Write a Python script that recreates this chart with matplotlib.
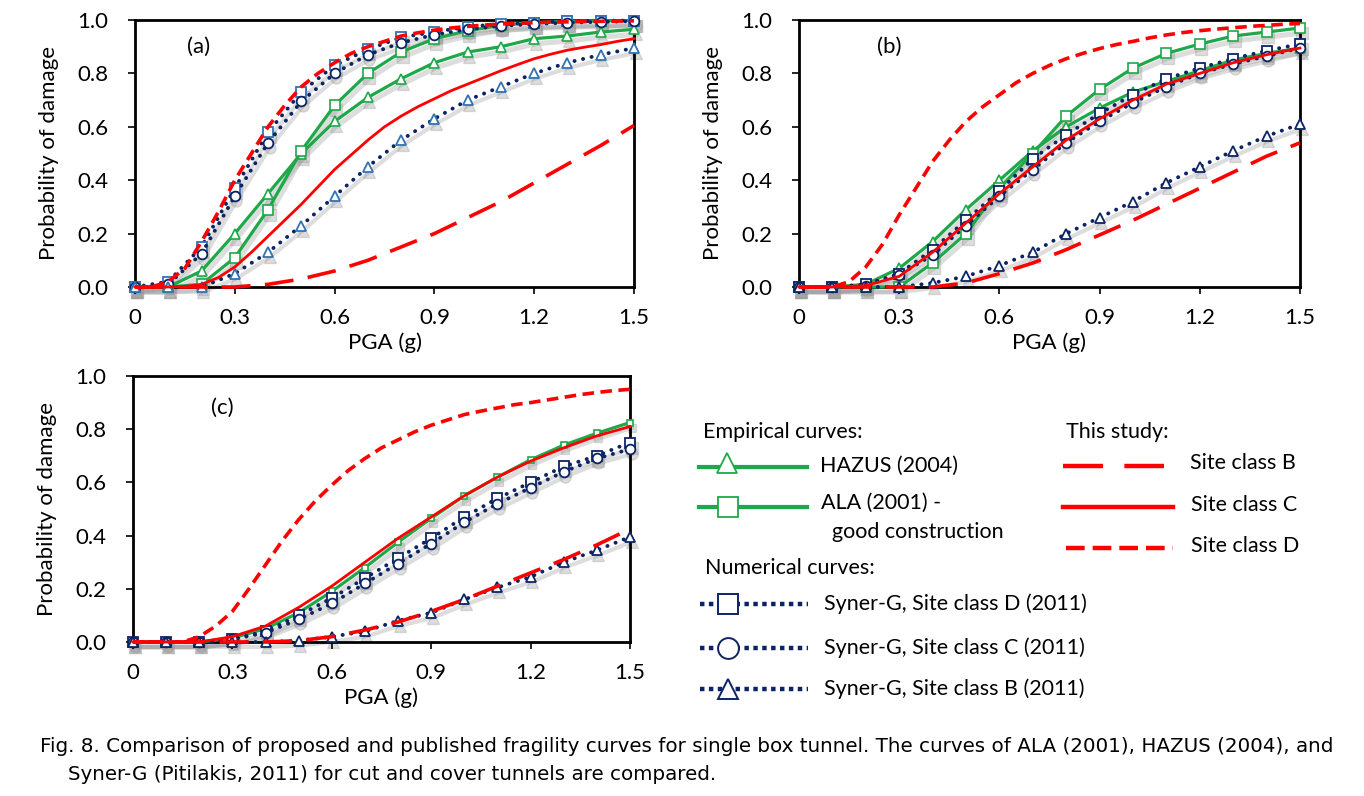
import matplotlib
matplotlib.use("Agg")
import matplotlib.pyplot as plt
import matplotlib.transforms as mtransforms
import numpy as np

W, H = 1364, 796
FONT = ['Lato', 'DejaVu Sans']
plt.rcParams['font.family'] = FONT

pga = [0.0, 0.1, 0.2, 0.3, 0.4, 0.5, 0.6, 0.7, 0.8, 0.9, 1.0, 1.1, 1.2, 1.3, 1.4, 1.5]
pga_fine = [0.0, 0.05, 0.1, 0.15, 0.2, 0.25, 0.3, 0.35, 0.4, 0.45, 0.5, 0.55, 0.6, 0.65, 0.7,
            0.75, 0.8, 0.85, 0.9, 0.95, 1.0, 1.05, 1.1, 1.15, 1.2, 1.25, 1.3, 1.35, 1.4, 1.45, 1.5]

# ---------------- panel (a) ----------------
a_hazus = [0, 0, 0.06, 0.20, 0.35, 0.50, 0.62, 0.71, 0.78, 0.84, 0.88, 0.90, 0.93, 0.94, 0.955, 0.965]
a_ala = [0, 0, 0.01, 0.11, 0.29, 0.51, 0.68, 0.80, 0.88, 0.93, 0.96, 0.98, 0.99, 0.995, 0.997, 0.998]
a_synD = [0, 0.02, 0.15, 0.37, 0.58, 0.73, 0.83, 0.89, 0.935, 0.955, 0.975, 0.985, 0.99, 0.995, 0.997, 0.998]
a_synC = [0, 0.01, 0.125, 0.34, 0.54, 0.695, 0.80, 0.87, 0.915, 0.945, 0.965, 0.978, 0.985, 0.99, 0.993, 0.996]
a_synB = [0, 0, 0, 0.05, 0.13, 0.23, 0.34, 0.45, 0.55, 0.63, 0.70, 0.75, 0.80, 0.84, 0.87, 0.895]
a_siteD = [0, 0.0, 0.02, 0.07, 0.17, 0.28, 0.40, 0.50, 0.60, 0.68, 0.75, 0.80, 0.84, 0.875, 0.90, 0.92,
           0.94, 0.952, 0.962, 0.97, 0.976, 0.981, 0.985, 0.988, 0.99, 0.992, 0.993, 0.994, 0.995, 0.996, 0.997]
a_siteC = [0, 0, 0, 0.002, 0.01, 0.035, 0.075, 0.13, 0.19, 0.25, 0.31, 0.375, 0.44, 0.495, 0.55, 0.60,
           0.64, 0.675, 0.705, 0.735, 0.76, 0.785, 0.81, 0.833, 0.855, 0.872, 0.887, 0.898, 0.908, 0.92, 0.93]
a_siteB = [0, 0, 0, 0, 0.01, 0.03, 0.06, 0.10, 0.15, 0.20, 0.26, 0.32, 0.39, 0.46, 0.53, 0.605]

# ---------------- panel (b) ----------------
b_hazus = [0, 0, 0.01, 0.07, 0.17, 0.29, 0.40, 0.51, 0.60, 0.67, 0.73, 0.77, 0.81, 0.85, 0.875, 0.895]
b_ala = [0, 0, 0, 0.0, 0.09, 0.20, 0.37, 0.50, 0.64, 0.74, 0.82, 0.875, 0.91, 0.94, 0.955, 0.97]
b_synD = [0, 0, 0.01, 0.05, 0.14, 0.25, 0.36, 0.48, 0.57, 0.65, 0.72, 0.78, 0.82, 0.855, 0.885, 0.91]
b_synC = [0, 0, 0.005, 0.045, 0.12, 0.23, 0.34, 0.44, 0.54, 0.62, 0.69, 0.75, 0.80, 0.835, 0.865, 0.895]
b_synB = [0, 0, 0, 0, 0.015, 0.04, 0.08, 0.13, 0.20, 0.26, 0.32, 0.39, 0.45, 0.51, 0.565, 0.61]
b_siteD = [0, 0, 0.0, 0.02, 0.075, 0.16, 0.27, 0.37, 0.47, 0.55, 0.62, 0.675, 0.72, 0.765, 0.80, 0.83,
           0.855, 0.875, 0.893, 0.908, 0.92, 0.933, 0.944, 0.953, 0.96, 0.966, 0.971, 0.976, 0.98, 0.984, 0.987]
b_siteC = [0, 0, 0.005, 0.04, 0.13, 0.24, 0.35, 0.45, 0.55, 0.63, 0.70, 0.76, 0.80, 0.84, 0.87, 0.895]
b_siteB = [0, 0, 0, 0, 0, 0.015, 0.05, 0.09, 0.14, 0.195, 0.25, 0.31, 0.37, 0.43, 0.49, 0.54]

# ---------------- panel (c) ----------------
c_ala = [0, 0, 0, 0.015, 0.05, 0.11, 0.19, 0.28, 0.375, 0.465, 0.55, 0.62, 0.685, 0.74, 0.785, 0.825]
c_synD = [0, 0, 0, 0.01, 0.04, 0.10, 0.165, 0.24, 0.315, 0.39, 0.47, 0.54, 0.60, 0.66, 0.70, 0.75]
c_synC = [0, 0, 0, 0.01, 0.035, 0.085, 0.145, 0.22, 0.295, 0.37, 0.45, 0.52, 0.58, 0.64, 0.69, 0.725]
c_synB = [0, 0, 0, 0, 0, 0.005, 0.02, 0.04, 0.08, 0.11, 0.16, 0.205, 0.245, 0.30, 0.345, 0.395]
c_siteD = [0, 0, 0, 0.0, 0.02, 0.06, 0.115, 0.20, 0.29, 0.38, 0.46, 0.53, 0.59, 0.645, 0.69, 0.73,
           0.76, 0.79, 0.815, 0.835, 0.855, 0.868, 0.88, 0.892, 0.90, 0.91, 0.92, 0.93, 0.938, 0.945, 0.95]
c_siteC = [0, 0, 0, 0.02, 0.06, 0.13, 0.21, 0.30, 0.39, 0.47, 0.55, 0.62, 0.68, 0.73, 0.775, 0.81]
c_siteB = [0, 0, 0, 0, 0, 0.005, 0.02, 0.045, 0.075, 0.115, 0.16, 0.21, 0.26, 0.31, 0.365, 0.425]

xticks = [0, 0.3, 0.6, 0.9, 1.2, 1.5]
xticklabels = ['0', '0.3', '0.6', '0.9', '1.2', '1.5']
yticks = [0.0, 0.2, 0.4, 0.6, 0.8, 1.0]
yticklabels = ['0.0', '0.2', '0.4', '0.6', '0.8', '1.0']

GREEN = '#1FA84A'
RED = '#FF0000'
NAVY = '#0D2464'
BLUE_A = '#2F73B5'

LS_B = (0, (8, 4))
LS_D = (0, (3.2, 1.8))
LS_DOT = (0, (0.05, 2.2))

fig = plt.figure(figsize=(W / 100, H / 100), dpi=100)


def add_ax(l, r, t, b):
    return fig.add_axes([l / W, 1 - b / H, (r - l) / W, (b - t) / H])


def shadow_plot(ax, x, y, **kw):
    tr = mtransforms.offset_copy(ax.transData, fig=fig, x=1.5, y=-5, units='dots')
    ax.plot(x, y, color='#9a9a9a', alpha=0.33, transform=tr, marker=kw.get('marker'),
            markersize=kw.get('markersize', 7) + 1, markerfacecolor='#9a9a9a',
            markeredgecolor='#9a9a9a', lw=kw.get('lw', 2.2) + 1.5, ls='-',
            clip_on=False, zorder=1)


def green(ax, y, marker, ms=7):
    shadow_plot(ax, pga, y, marker=marker, markersize=ms, lw=2.2)
    ax.plot(pga, y, color=GREEN, lw=2.3, marker=marker, markersize=ms,
            markerfacecolor='white', markeredgecolor=GREEN, markeredgewidth=1.2,
            clip_on=False, zorder=3)


def navy(ax, y, marker, edge, ms=7):
    shadow_plot(ax, pga, y, marker=marker, markersize=ms, lw=1.5)
    ax.plot(pga, y, color=NAVY, lw=2.8, ls=LS_DOT, dash_capstyle='round', marker=marker,
            markersize=ms, markerfacecolor='white', markeredgecolor=edge,
            markeredgewidth=1.3, clip_on=False, zorder=4)


def red(ax, x, y, ls, lw):
    ax.plot(x, y, color=RED, lw=lw, ls=ls, clip_on=False, zorder=5)


def style(ax, label, lx, ly):
    ax.set_xlim(0, 1.5)
    ax.set_ylim(0, 1.0)
    ax.set_xticks(xticks)
    ax.set_xticklabels(xticklabels)
    ax.set_yticks(yticks)
    ax.set_yticklabels(yticklabels)
    for s in ax.spines.values():
        s.set_linewidth(2.0)
        s.set_color('black')
        s.set_zorder(2)
    ax.tick_params(direction='out', length=5, width=1.2, labelsize=16)
    ax.tick_params(axis='x', pad=10)
    ax.tick_params(axis='y', pad=14)
    ax.set_xlabel('PGA (g)', fontsize=16, labelpad=3)
    ax.set_ylabel('Probability of damage', fontsize=16, labelpad=13)
    ax.text(lx, ly, label, fontsize=16, ha='center', va='center')


# panel (a)
ax_a = add_ax(135, 634, 20, 287)
green(ax_a, a_hazus, '^')
green(ax_a, a_ala, 's')
navy(ax_a, a_synD, 's', BLUE_A)
navy(ax_a, a_synC, 'o', NAVY)
navy(ax_a, a_synB, '^', BLUE_A)
red(ax_a, pga, a_siteB, LS_B, 2.6)
red(ax_a, pga_fine, a_siteC, '-', 2.0)
red(ax_a, pga_fine, a_siteD, LS_D, 2.6)
style(ax_a, '(a)', 0.19, 0.9)

# panel (b)
ax_b = add_ax(799, 1300, 20, 287)
green(ax_b, b_hazus, '^')
green(ax_b, b_ala, 's')
navy(ax_b, b_synD, 's', NAVY)
navy(ax_b, b_synC, 'o', NAVY)
navy(ax_b, b_synB, '^', NAVY)
red(ax_b, pga, b_siteB, LS_B, 2.6)
red(ax_b, pga, b_siteC, '-', 2.0)
red(ax_b, pga_fine, b_siteD, LS_D, 2.6)
style(ax_b, '(b)', 0.27, 0.9)

# panel (c)
ax_c = add_ax(133, 630, 376, 642)
green(ax_c, c_ala, 's', ms=5)
navy(ax_c, c_synD, 's', NAVY)
navy(ax_c, c_synC, 'o', NAVY)
navy(ax_c, c_synB, '^', NAVY)
red(ax_c, pga, c_siteB, LS_B, 2.6)
red(ax_c, pga, c_siteC, '-', 2.0)
red(ax_c, pga_fine, c_siteD, LS_D, 2.6)
style(ax_c, '(c)', 0.27, 0.88)

# ---------------- legend (drawn in a pixel-space overlay) ----------------
lg = fig.add_axes([0, 0, 1, 1], zorder=-1)
lg.set_xlim(0, W)
lg.set_ylim(H, 0)
lg.axis('off')
LF = 15.5

lg.text(703, 432, 'Empirical curves:', fontsize=LF, va='center', ha='left')
lg.plot([699, 807], [467, 467], color=GREEN, lw=3)
lg.plot([727], [463], marker='^', markersize=15, markerfacecolor='white',
        markeredgecolor=GREEN, markeredgewidth=1.3)
lg.text(820, 466, 'HAZUS (2004)', fontsize=LF, va='center', ha='left')
lg.plot([699, 807], [507, 507], color=GREEN, lw=3)
lg.plot([728], [507], marker='s', markersize=14, markerfacecolor='white',
        markeredgecolor=GREEN, markeredgewidth=1.3)
lg.text(821, 503, 'ALA (2001) -', fontsize=LF, va='center', ha='left')
lg.text(832, 532, 'good construction', fontsize=LF, va='center', ha='left')

lg.text(705, 568, 'Numerical curves:', fontsize=LF, va='center', ha='left')
for yy, mk, txt in [(604, 's', 'Syner-G, Site class D (2011)'),
                    (648, 'o', 'Syner-G, Site class C (2011)'),
                    (689, '^', 'Syner-G, Site class B (2011)')]:
    lg.plot([700, 808], [yy, yy], color=NAVY, lw=3.2, ls=(0, (1, 1)))
    lg.plot([728], [yy], marker=mk, markersize=15, markerfacecolor='white',
            markeredgecolor=NAVY, markeredgewidth=1.4)
    lg.text(824, yy, txt, fontsize=LF, va='center', ha='left')

lg.text(1066, 432, 'This study:', fontsize=LF, va='center', ha='left')
lg.plot([1063, 1164], [466, 466], color=RED, lw=3.2, ls=(0, (9, 4.8)))
lg.text(1190, 463, 'Site class B', fontsize=LF, va='center', ha='left')
lg.plot([1063, 1173], [507, 507], color=RED, lw=3.2)
lg.text(1191, 505, 'Site class C', fontsize=LF, va='center', ha='left')
lg.plot([1066, 1173], [548, 548], color=RED, lw=3.2, ls=(0, (4.2, 1.8)))
lg.text(1191, 546, 'Site class D', fontsize=LF, va='center', ha='left')

# ---------------- caption ----------------
CF = ['DejaVu Sans']
fig.text(40 / W, 1 - 747 / H,
         'Fig. 8. Comparison of proposed and published fragility curves for single box tunnel. '
         'The curves of ALA (2001), HAZUS (2004), and',
         fontsize=14.3, family=CF, va='center', ha='left')
fig.text(68 / W, 1 - 775 / H,
         'Syner-G (Pitilakis, 2011) for cut and cover tunnels are compared.',
         fontsize=14.3, family=CF, va='center', ha='left')

fig.savefig('out.png', dpi=100)
